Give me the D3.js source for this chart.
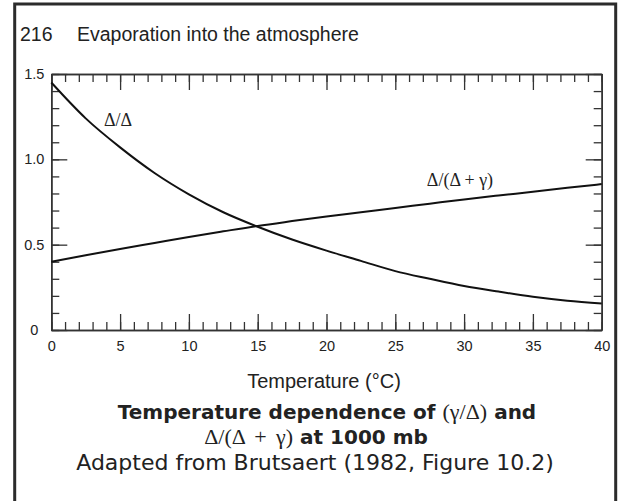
<!DOCTYPE html>
<html><head><meta charset="utf-8">
<script src="https://cdn.jsdelivr.net/npm/d3@7"></script>
<style>
html,body{margin:0;padding:0;background:#fff;}
svg{display:block;}
</style></head>
<body>
<svg id="c" width="619" height="501"></svg>
<script>
// ---- data ----
const temps = [0, 2.5, 5, 7.5, 10, 12.5, 15, 17.5, 20, 22.5, 25, 27.5, 30, 32.5, 35, 37.5, 40];
const gammaOverDelta = [1.45, 1.24, 1.07, 0.92, 0.795, 0.69, 0.605, 0.53, 0.465, 0.405, 0.345, 0.30, 0.258, 0.225, 0.195, 0.172, 0.155];
const deltaOverDeltaGamma = [0.40, 0.438, 0.475, 0.51, 0.545, 0.578, 0.61, 0.638, 0.665, 0.69, 0.715, 0.74, 0.765, 0.788, 0.81, 0.833, 0.855];
const xMajorTicks = [0, 5, 10, 15, 20, 25, 30, 35, 40];
const yMajorTicks = [0, 0.5, 1.0, 1.5];
const yTickLabels = ["0", "0.5", "1.0", "1.5"];
const curveLabel1 = "Δ/Δ";
const curveLabel2 = "Δ/(Δ + γ)";
const pageHeader = ["216", "Evaporation into the atmosphere"];
const xTitle = "Temperature (°C)";

const svg = d3.select("#c");
const L = 51.3, R = 601.7, T = 74, B = 330;
const x = d3.scaleLinear().domain([0, 40]).range([L, R]);
const y = d3.scaleLinear().domain([0, 1.5]).range([B, T]);
const sans = "Liberation Sans, Arial, sans-serif";
const serif = "Liberation Serif, Times New Roman, serif";
const cap = "DejaVu Sans, sans-serif";

// frame
svg.append("path").attr("d", `M14.7,520 V4 H615.7 V520`).attr("fill", "none").attr("stroke", "#2b2b2b").attr("stroke-width", 3);

// page header
const hdr = svg.append("text").attr("y", 41).attr("font-family", sans).attr("font-size", 19.5).attr("fill", "#222");
hdr.append("tspan").attr("x", 20).text(pageHeader[0]);
hdr.append("tspan").attr("x", 77).text(pageHeader[1]);

const axCol = "#333";
const minorX = d3.range(0, 41, 1);
const minorY = d3.range(0, 16, 1).map(d => d / 10);

function styleAxis(g) {
  g.selectAll("path.domain").attr("stroke", axCol).attr("stroke-width", 1.5);
  g.selectAll(".tick line").attr("stroke", axCol).attr("stroke-width", 1.3);
}
// bottom
svg.append("g").attr("transform", `translate(0,${B})`)
  .call(d3.axisBottom(x).tickValues(minorX).tickSize(-8).tickSizeOuter(0).tickFormat(""))
  .call(styleAxis);
const bx = svg.append("g").attr("transform", `translate(0,${B})`)
  .call(d3.axisBottom(x).tickValues(xMajorTicks).tickSize(-16).tickSizeOuter(0).tickPadding(11).tickFormat(d3.format("d")))
  .call(styleAxis);
bx.selectAll("text").attr("font-family", sans).attr("font-size", 14.5).attr("fill", "#222");
// top
svg.append("g").attr("transform", `translate(0,${T})`)
  .call(d3.axisTop(x).tickValues(minorX).tickSize(-8).tickSizeOuter(0).tickFormat(""))
  .call(styleAxis);
svg.append("g").attr("transform", `translate(0,${T})`)
  .call(d3.axisTop(x).tickValues(xMajorTicks).tickSize(-16).tickSizeOuter(0).tickFormat(""))
  .call(styleAxis);
// left
svg.append("g").attr("transform", `translate(${L},0)`)
  .call(d3.axisLeft(y).tickValues(minorY).tickSize(-8).tickSizeOuter(0).tickFormat(""))
  .call(styleAxis);
const ly = svg.append("g").attr("transform", `translate(${L},0)`)
  .call(d3.axisLeft(y).tickValues(yMajorTicks).tickSize(-16).tickSizeOuter(0).tickFormat((d, i) => yTickLabels[i]))
  .call(styleAxis);
ly.selectAll("text").attr("x", -17).attr("text-anchor", "middle")
  .attr("font-family", sans).attr("font-size", 14.5).attr("fill", "#222");
// right
svg.append("g").attr("transform", `translate(${R},0)`)
  .call(d3.axisRight(y).tickValues(minorY).tickSize(-8).tickSizeOuter(0).tickFormat(""))
  .call(styleAxis);
svg.append("g").attr("transform", `translate(${R},0)`)
  .call(d3.axisRight(y).tickValues(yMajorTicks).tickSize(-16).tickSizeOuter(0).tickFormat(""))
  .call(styleAxis);

// curves
const line = d3.line().x(d => x(d[0])).y(d => y(d[1])).curve(d3.curveMonotoneX);
svg.append("path").datum(temps.map((t, i) => [t, gammaOverDelta[i]]))
  .attr("d", line).attr("fill", "none").attr("stroke", "#111").attr("stroke-width", 2);
svg.append("path").datum(temps.map((t, i) => [t, deltaOverDeltaGamma[i]]))
  .attr("d", line).attr("fill", "none").attr("stroke", "#111").attr("stroke-width", 2);

// curve labels
svg.append("text").attr("x", 118).attr("y", 126).attr("text-anchor", "middle")
  .attr("font-family", serif).attr("font-size", 18).attr("fill", "#222").text(curveLabel1);
svg.append("text").attr("x", 460).attr("y", 186).attr("text-anchor", "middle")
  .attr("font-family", serif).attr("font-size", 18).attr("fill", "#222").text(curveLabel2);

// axis title
svg.append("text").attr("x", 324).attr("y", 388).attr("text-anchor", "middle")
  .attr("font-family", sans).attr("font-size", 20).attr("fill", "#222").text(xTitle);

// caption
const c1 = svg.append("text").attr("x", 327).attr("y", 419).attr("text-anchor", "middle")
  .attr("font-family", cap).attr("font-size", 20).attr("font-weight", "bold").attr("fill", "#222");
c1.append("tspan").text("Temperature dependence of ");
c1.append("tspan").attr("font-family", serif).attr("font-weight", "normal").attr("font-size", 22).text("(γ/Δ)");
c1.append("tspan").text(" and");
const c2 = svg.append("text").attr("x", 316).attr("y", 444).attr("text-anchor", "middle")
  .attr("font-family", cap).attr("font-size", 20).attr("font-weight", "bold").attr("fill", "#222");
c2.append("tspan").attr("font-family", serif).attr("font-weight", "normal").attr("font-size", 22).attr("word-spacing", 4).text("Δ/(Δ + γ)");
c2.append("tspan").text(" at 1000 mb");
svg.append("text").attr("x", 315).attr("y", 470).attr("text-anchor", "middle")
  .attr("font-family", cap).attr("font-size", 22).attr("fill", "#222").text("Adapted from Brutsaert (1982, Figure 10.2)");
</script>
</body></html>
